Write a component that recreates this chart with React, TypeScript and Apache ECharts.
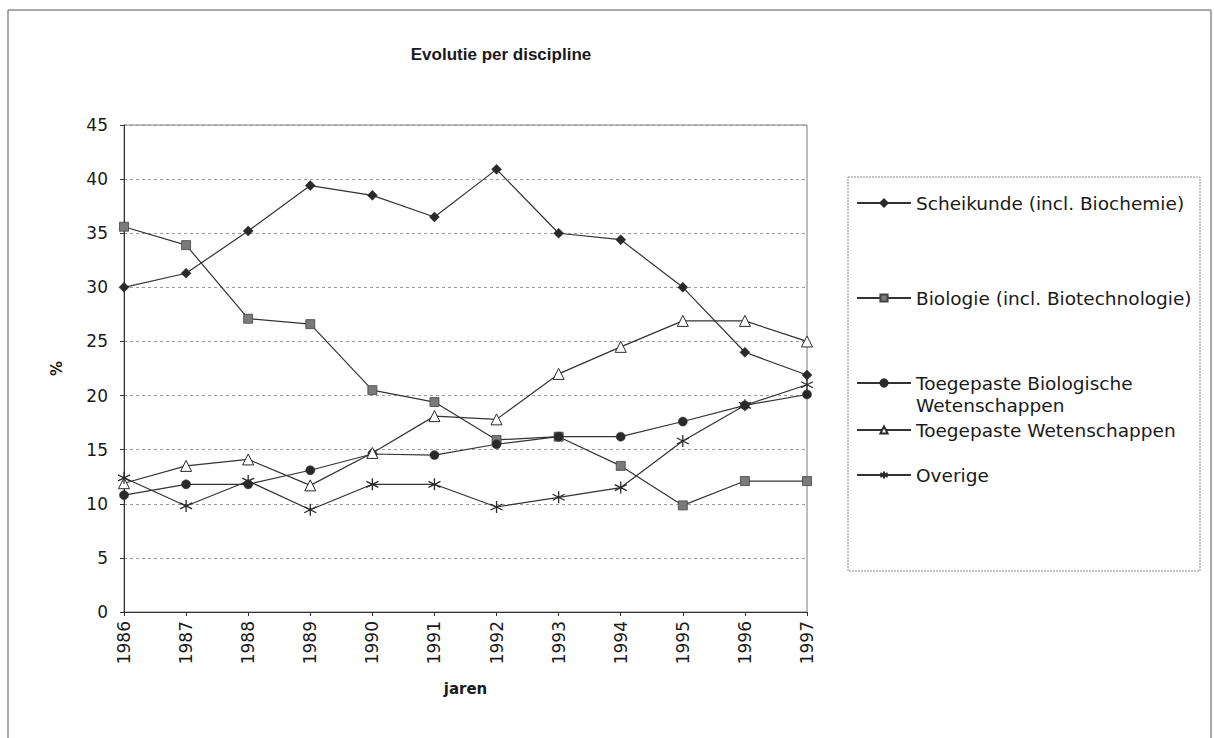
import React, { useEffect, useRef } from "react";
import * as echarts from "echarts";

const years = ["1986", "1987", "1988", "1989", "1990", "1991", "1992", "1993", "1994", "1995", "1996", "1997"];
const seriesNames = [
  "Scheikunde (incl. Biochemie)",
  "Biologie (incl. Biotechnologie)",
  "Toegepaste Biologische Wetenschappen",
  "Toegepaste Wetenschappen",
  "Overige",
];
const scheikunde = [30.0, 31.3, 35.2, 39.4, 38.5, 36.5, 40.9, 35.0, 34.4, 30.0, 24.0, 21.9];
const biologie = [35.6, 33.9, 27.1, 26.6, 20.5, 19.4, 15.9, 16.2, 13.5, 9.85, 12.1, 12.1];
const toegepasteBiologische = [10.8, 11.8, 11.8, 13.1, 14.6, 14.5, 15.5, 16.2, 16.2, 17.6, 19.1, 20.1];
const toegepasteWetenschappen = [11.9, 13.5, 14.1, 11.7, 14.7, 18.1, 17.8, 22.0, 24.5, 26.9, 26.9, 25.0];
const overige = [12.4, 9.8, 12.1, 9.45, 11.8, 11.8, 9.7, 10.6, 11.5, 15.8, 19.1, 21.0];
const yTicks = { min: 0, max: 45, interval: 5 };

const FONT = "'DejaVu Sans', Verdana, sans-serif";
const TITLE_FONT = "'Liberation Sans', Arial, Helvetica, sans-serif";
const DARK = "#2a2a2a";
const asterisk = "path://M5,0L5,10M0.7,2.5L9.3,7.5M9.3,2.5L0.7,7.5";

const legendCenters = [203, 298, 383, 430, 475];

export default function App() {
  const ref = useRef<HTMLDivElement>(null);
  useEffect(() => {
    if (!ref.current) return;
    const chart = echarts.init(ref.current, undefined, { renderer: "svg" });
    const lineStyle = { color: "#333333", width: 1.2 };
    const mk = (name: string, data: number[], symbol: string, size: number, itemStyle: any) => ({
      name,
      type: "line",
      data,
      symbol,
      symbolSize: size,
      showAllSymbol: true,
      lineStyle,
      itemStyle,
      emphasis: { disabled: true },
    });
    const series = [
      mk(seriesNames[0], scheikunde, "diamond", 10, { color: DARK, borderColor: DARK, borderWidth: 0.5 }),
      mk(seriesNames[1], biologie, "rect", 9, { color: "#7a7a7a", borderColor: "#444", borderWidth: 0.8 }),
      mk(seriesNames[2], toegepasteBiologische, "circle", 9, { color: DARK, borderColor: DARK, borderWidth: 0.5 }),
      mk(seriesNames[3], toegepasteWetenschappen, "triangle", 11, { color: "#ffffff", borderColor: DARK, borderWidth: 1 }),
      mk(seriesNames[4], overige, asterisk, 12, { color: "rgba(0,0,0,0)", borderColor: DARK, borderWidth: 1.3 }),
    ];
    const legends = seriesNames.map((n, i) => ({
      data: [n],
      orient: "horizontal",
      left: 856,
      top: legendCenters[i] - (i === 2 ? 33 : 11),
      itemWidth: 54,
      itemHeight: 9,
      itemGap: 4,
      padding: 0,
      selectedMode: false,
      formatter: (name: string) =>
        name === "Toegepaste Biologische Wetenschappen" ? " \nToegepaste Biologische\nWetenschappen" : name,
      textStyle: { fontFamily: FONT, fontSize: 18.5, color: "#1a1a1a", lineHeight: 22 },
    }));
    chart.setOption({
      animation: false,
      backgroundColor: "#ffffff",
      title: {
        text: "Evolutie per discipline",
        left: 496,
        top: 41,
        textAlign: "center",
        textStyle: { fontFamily: TITLE_FONT, fontSize: 17, fontWeight: "bold", color: "#1a1a1a" },
      },
      legend: legends,
      grid: {
        left: 124,
        right: 1214 - 807,
        top: 125,
        bottom: 738 - 612,
        show: true,
        borderColor: "#7a7a7a",
        borderWidth: 1,
        backgroundColor: "transparent",
      },
      xAxis: {
        type: "category",
        data: years,
        boundaryGap: false,
        name: "jaren",
        nameLocation: "middle",
        nameGap: 69,
        nameTextStyle: { fontFamily: FONT, fontSize: 15, fontWeight: "bold", color: "#1a1a1a" },
        axisLine: { lineStyle: { color: "#333", width: 1 } },
        axisTick: { show: true, length: 4, alignWithLabel: true, lineStyle: { color: "#333" } },
        axisLabel: { rotate: 90, fontFamily: FONT, fontSize: 17, color: "#1a1a1a", margin: 9 },
        splitLine: { show: false },
      },
      yAxis: {
        type: "value",
        min: yTicks.min,
        max: yTicks.max,
        interval: yTicks.interval,
        name: "%",
        nameLocation: "middle",
        nameGap: 60,
        nameTextStyle: { fontFamily: FONT, fontSize: 15, fontWeight: "bold", color: "#1a1a1a" },
        axisLine: { show: true, lineStyle: { color: "#333", width: 1 } },
        axisTick: { show: true, length: 4, lineStyle: { color: "#333" } },
        axisLabel: { fontFamily: FONT, fontSize: 17, color: "#1a1a1a", margin: 16 },
        splitLine: { show: true, lineStyle: { color: "#9a9a9a", type: [3, 3], width: 1 } },
      },
      graphic: [
        {
          type: "rect",
          silent: true,
          z: -1,
          shape: { x: 8, y: 10, width: 1203, height: 740 },
          style: { fill: "none", stroke: "#555", lineWidth: 1 },
        },
        {
          type: "rect",
          silent: true,
          z: -1,
          shape: { x: 848, y: 177, width: 352, height: 394 },
          style: { fill: "none", stroke: "#8a8a8a", lineWidth: 1, lineDash: [2, 1] },
        },
      ],
      series,
    });
    return () => chart.dispose();
  }, []);
  return (
    <div
      ref={ref}
      style={{ position: "fixed", left: 0, top: 0, width: 1214, height: 738, background: "#fff" }}
    />
  );
}
